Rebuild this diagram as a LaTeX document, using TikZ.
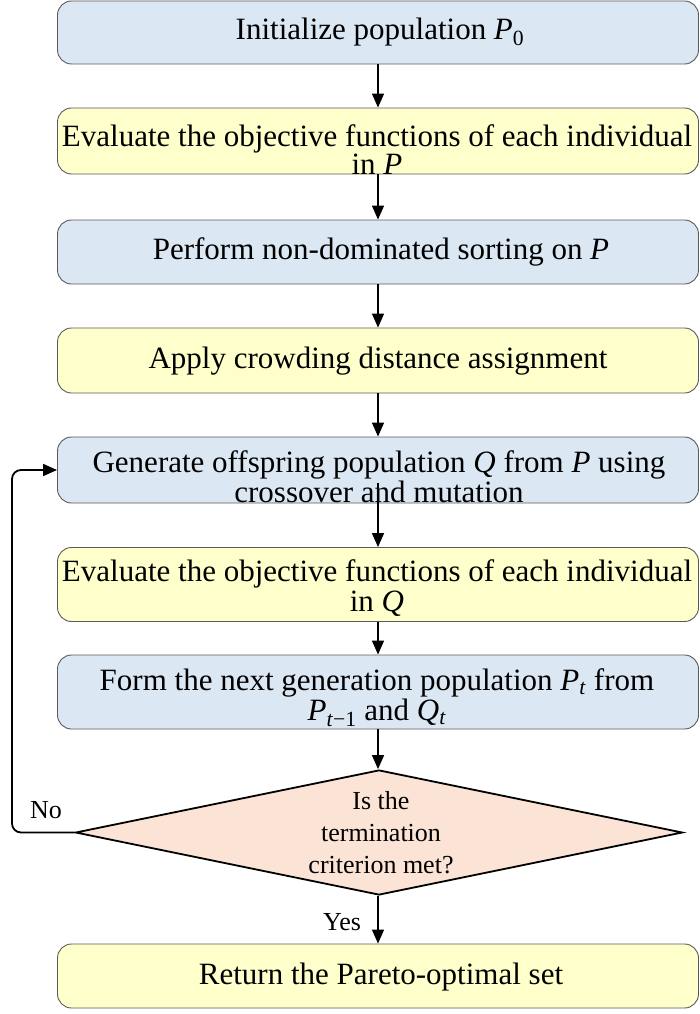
\documentclass[tikz,border=0pt]{standalone}
\usepackage{fontspec}
\setmainfont{Liberation Serif}
\usetikzlibrary{arrows.meta,shapes.geometric}
\definecolor{bluefill}{HTML}{DCE7F4}
\definecolor{yellowfill}{HTML}{FFFFCC}
\definecolor{peachfill}{HTML}{FBE4D5}
\definecolor{edgegray}{HTML}{5A5A5A}
\newcommand{\ital}[1]{\textit{#1}}
\begin{document}
\begin{tikzpicture}[x=1pt,y=-1pt,
  procbox/.style={rectangle, rounded corners=14pt, draw=edgegray, line width=0.9pt,
    minimum width=641pt, inner sep=0pt},
  bluebox/.style={procbox, fill=bluefill},
  yellowbox/.style={procbox, fill=yellowfill},
  txt/.style={font=\fontsize{31}{30}\selectfont, align=center, inner sep=0pt},
  dtxt/.style={font=\fontsize{26}{32}\selectfont, align=center, inner sep=0pt},
  lbl/.style={font=\fontsize{26}{30}\selectfont, inner sep=0pt},
  decision/.style={diamond, draw=black, line width=1.8pt, fill=peachfill,
    minimum width=607pt, minimum height=125pt, inner sep=0pt},
  flow/.style={draw=black, line width=1.5pt, -{Triangle[length=14pt,width=12pt]}}
]
\useasboundingbox (0,0) rectangle (699,1014);

% boxes
\node[bluebox,   minimum height=63pt] (b1) at (378,32.5) {};
\node[yellowbox, minimum height=66pt] (b2) at (378,141) {};
\node[bluebox,   minimum height=64pt] (b3) at (378,252) {};
\node[yellowbox, minimum height=65pt] (b4) at (378,360.5) {};
\node[bluebox,   minimum height=66pt] (b5) at (378,470) {};
\node[yellowbox, minimum height=74pt] (b6) at (378,584.5) {};
\node[bluebox,   minimum height=74pt] (b7) at (378,692) {};
\node[decision] (d) at (379,832.5) {};
\node[yellowbox, minimum height=64pt] (b9) at (378,976) {};

% texts
\node[txt] (t1) at (380,32) {Initialize population \ital{P}\textsubscript{0}};
\node[txt, font=\fontsize{31}{27}\selectfont] (t2) at (377,150) {Evaluate the objective functions of each individual\\in \ital{P}};
\node[txt] (t3) at (381,252) {Perform non-dominated sorting on \ital{P}};
\node[txt] (t4) at (378,361) {Apply crowding distance assignment};
\node[txt] (t5) at (379,477) {Generate offspring population \ital{Q} from \ital{P} using\\crossover and mutation};
\node[txt] (t6) at (377,588) {Evaluate the objective functions of each individual\\in \ital{Q}};
\node[txt] (t7) at (377,697.5) {Form the next generation population \ital{P}\textsubscript{\ital{t}} from\\\ital{P}\textsubscript{\ital{t}−1} and \ital{Q}\textsubscript{\ital{t}}};
\node[dtxt] (td) at (381,833) {Is the\\termination\\criterion met?};
\node[txt] (t9) at (381,977) {Return the Pareto-optimal set};

% labels
\node[lbl] (no) at (46,810) {No};
\node[lbl] (yes) at (342,922) {Yes};

% connectors
\draw[flow] (b1) -- (b2);
\draw[flow] (b2) -- (b3);
\draw[flow] (b3) -- (b4);
\draw[flow] (b4) -- (b5);
\draw[flow] ([yshift=20pt]b5.south) -- (b6.north);
\draw[flow] (b6) -- (b7);
\draw[flow] (b7.south) -- (b7.south |- d.north);
\draw[flow] (b9.north |- d.south) -- (b9.north);
\coordinate (loopx) at (12,470);
\draw[flow, line width=1.8pt, rounded corners=9pt] (d.west) -| (loopx) -- (b5.west);
\end{tikzpicture}
\end{document}
